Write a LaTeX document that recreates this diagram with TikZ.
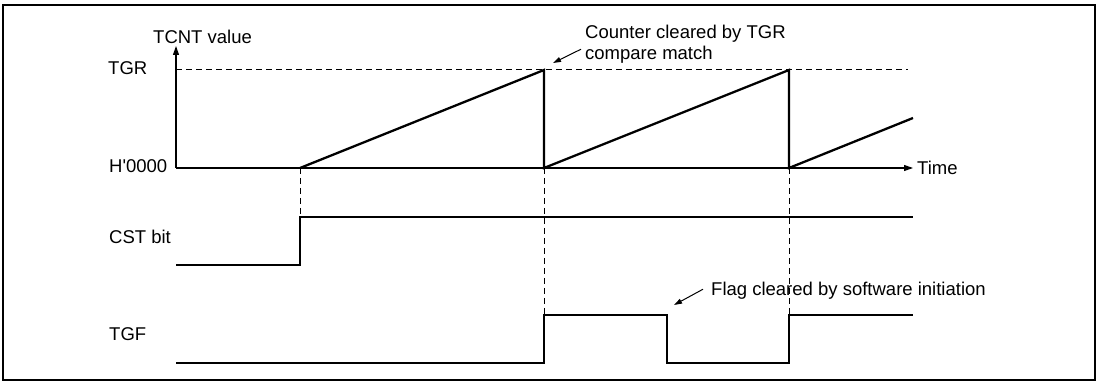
\documentclass[tikz,border=0pt]{standalone}
\usepackage{fontspec}
\setmainfont{Liberation Sans}
\usetikzlibrary{arrows.meta, calc}

\begin{document}
\begin{tikzpicture}[
    x=1pt, y=-1pt,
    lbl/.style={inner sep=0pt, anchor=base west, font=\fontsize{18.5}{20}\selectfont},
    axis/.style={line width=1.1pt, -{Triangle[length=9pt, width=6pt]}},
    wave/.style={line width=2.3pt, line join=miter},
    guide/.style={line width=1pt, dash pattern=on 6pt off 4pt},
    note/.style={line width=1pt, -{Triangle[length=8pt, width=5pt]}},
  ]
    \useasboundingbox (0,0) rectangle (1101,382);
    \draw[line width=2.2pt] (3,5) rectangle (1095,380);

    % axes of the counter diagram
    \coordinate (org)  at (176,168);
    \coordinate (ytop) at (176,46);
    \coordinate (xend) at (913,168);
    \draw[axis] (org) -- (ytop);
    \draw[axis] (org) -- (xend);

    % labels
    \node[lbl] (tcnt) at (153,44)  {TCNT value};
    \node[lbl] (tgr)  at (108,75)  {TGR};
    \node[lbl] (zero) at (109,173) {H\textquotesingle0000};
    \node[lbl] (cst)  at (109,244) {CST bit};
    \node[lbl] (tgf)  at (109,340) {TGF};
    \node[lbl] (time) at (917,175) {Time};

    % guide lines
    \draw[guide] (176,70) -- (908,70);
    \draw[guide] (300,168) -- (300,217);
    \draw[guide] (544,168) -- (544,315);
    \draw[guide] (789,168) -- (789,315);

    % TCNT sawtooth
    \draw[wave] (300,168) -- (544,70) -- (544,168) -- (789,70) -- (789,168) -- (913,118);

    % CST bit
    \draw[wave] (176,265) -- (300,265) -- (300,217) -- (913,217);

    % TGF
    \draw[wave] (176,363) -- (544,363) -- (544,315) -- (667,315) -- (667,363)
      -- (789,363) -- (789,315) -- (913,315);

    % notes
    \node[lbl] (clr) at (585,39) {Counter cleared by TGR};
    \node[lbl] (cmp) at (585,60) {compare match};
    \coordinate (clrtip) at (553,63);
    \draw[note] ($(cmp.west)+(-4,-6)$) -- (clrtip);

    \node[lbl] (flag) at (711,295) {Flag cleared by software initiation};
    \coordinate (flagtip) at (674,305);
    \draw[note] ($(flag.west)+(-8,-1)$) -- (flagtip);
\end{tikzpicture}
\end{document}
